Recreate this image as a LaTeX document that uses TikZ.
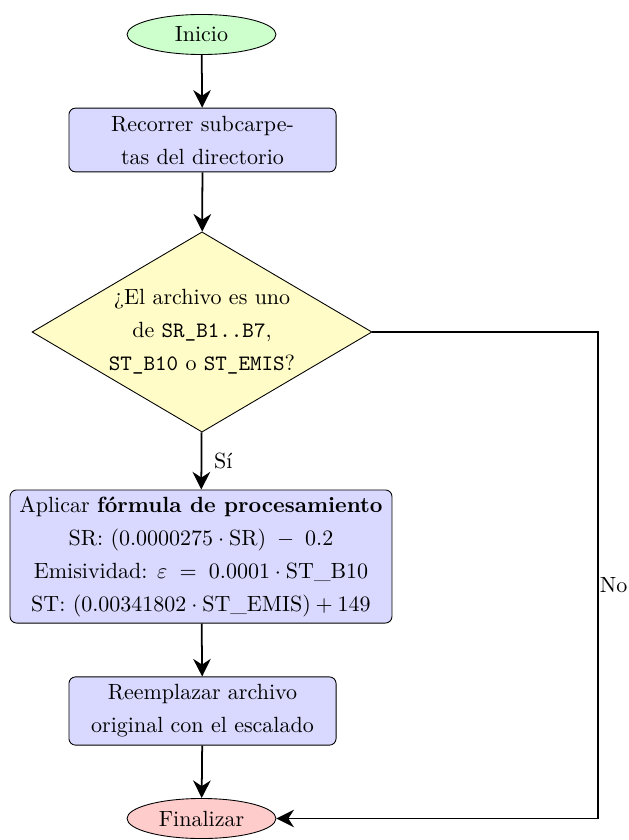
\documentclass[tikz,border=0pt]{standalone}
\usetikzlibrary{shapes.geometric,arrows.meta}
\begin{document}
\begin{tikzpicture}[x={(0.4545pt,0)},y={(0,-0.4545pt)},
  every node/.style={font=\fontsize{10}{15}\selectfont},
  term/.style={ellipse,draw,inner sep=0pt,minimum width=67.7pt,minimum height=18.2pt},
  procbox/.style={rectangle,rounded corners=3pt,draw,fill=blue!15,align=center,inner sep=2pt},
  decbox/.style={diamond,draw,fill=yellow!22,align=center,inner sep=0pt,shape aspect=1.7,minimum width=154.5pt,minimum height=91pt},
  flow/.style={thick,-{Stealth[length=8pt,width=8pt]}}]
\useasboundingbox (0,0) rectangle (628,840);
\node[term,fill=green!20] (start) at (201.5,34.5) {Inicio};
\node[procbox,minimum width=121.4pt,minimum height=29pt] (walk) at (202.5,140) {Recorrer subcarpe-\\tas del directorio};
\node[decbox] (dec) at (202,332) {¿El archivo es uno\\de \texttt{SR\_B1..B7},\\\texttt{ST\_B10} o \texttt{ST\_EMIS}?};
\node[procbox,minimum width=173.6pt,minimum height=60.5pt] (apply) at (201,556.5) {Aplicar \textbf{fórmula de procesamiento}\\
SR: $(0.0000275\cdot\mathrm{SR})\;-\;0.2$\\
Emisividad: $\varepsilon\;=\;0.0001\cdot{}$ST\_B10\\
ST: $(0.00341802\cdot{}$ST\_EMIS$)+149$};
\node[procbox,minimum width=121.4pt,minimum height=31pt] (repl) at (202.5,711) {Reemplazar archivo\\original con el escalado};
\node[term,fill=red!20] (stop) at (201.5,818.5) {Finalizar};
\coordinate (corner1) at (598,332);
\coordinate (corner2) at (598,818.5);
\draw[flow] (start) -- (walk);
\draw[flow] (walk) -- (dec);
\draw[flow] (dec) -- node[right,pos=0.5,xshift=2pt] (si) {Sí} (apply);
\draw[flow] (apply) -- (repl);
\draw[flow] (repl) -- (stop);
\draw[flow] (dec.east) -- (corner1) -- node[right,pos=0.52,inner sep=0.5pt] (no) {No} (corner2) -- (stop.east);
\end{tikzpicture}
\end{document}
